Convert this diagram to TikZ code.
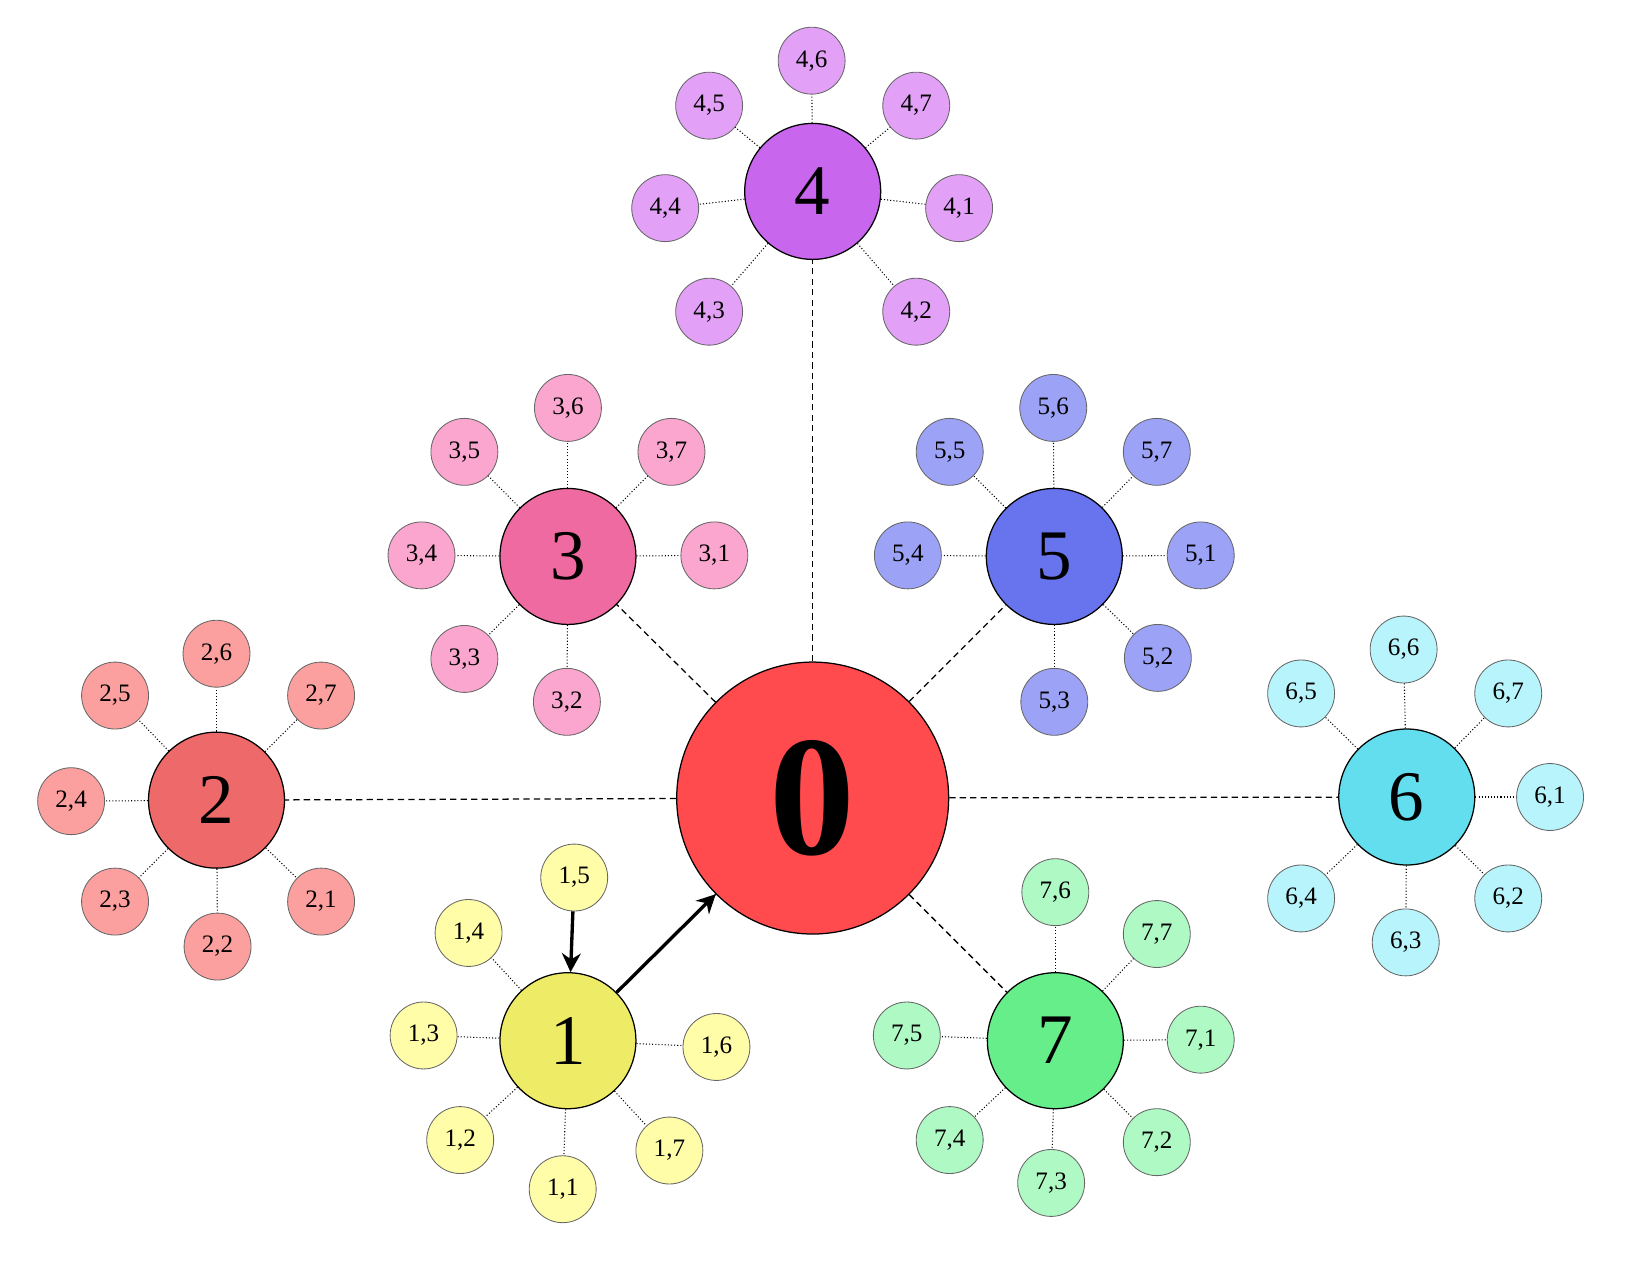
\documentclass[tikz,border=0pt]{standalone}
\usepackage{fontspec}
\setmainfont{Liberation Serif}
\usetikzlibrary{arrows.meta}
\definecolor{c0}{HTML}{FF4B4E}
\definecolor{m1}{HTML}{EEEC66}\definecolor{s1}{HTML}{FFFDA8}
\definecolor{m2}{HTML}{EE6A6A}\definecolor{s2}{HTML}{FCA09F}
\definecolor{m3}{HTML}{EE6AA0}\definecolor{s3}{HTML}{FBA6CF}
\definecolor{m4}{HTML}{C966EE}\definecolor{s4}{HTML}{E2A0F7}
\definecolor{m5}{HTML}{6873EE}\definecolor{s5}{HTML}{9CA3F7}
\definecolor{m6}{HTML}{63DEEE}\definecolor{s6}{HTML}{B8F4FB}
\definecolor{m7}{HTML}{66EE8A}\definecolor{s7}{HTML}{AEF9C4}
\tikzset{
 mainnode/.style={circle,draw=black,line width=0.6pt,minimum size=65pt,inner sep=0pt,font=\fontsize{34}{34}\selectfont},
 subnode/.style={circle,draw=black!60,line width=0.4pt,minimum size=32pt,inner sep=0pt,font=\fontsize{12}{12}\selectfont},
 hub/.style={circle,draw=black,line width=0.6pt,fill=c0,minimum size=130pt,inner sep=0pt,font=\fontsize{82}{82}\selectfont\bfseries},
 mainedge/.style={densely dashed,line width=0.6pt},
 subedge/.style={densely dotted,line width=0.5pt},
 arr/.style={line width=1.6pt,-{Stealth[length=9pt,width=9pt]}}
}
\begin{document}
\begin{tikzpicture}[x=0.5pt,y=-0.5pt]
\useasboundingbox (0,0) rectangle (1568,1222);
\node[hub] (n0) at (777,763) {0};
\foreach \m/\x/\y in {1/543/995,2/207/765,3/543/532,4/777/183,5/1008/532,6/1345/762,7/1009/995}{
  \node[mainnode,fill=m\m] (n\m) at (\x,\y) {\m};
  \draw[mainedge] (n0) -- (n\m);
}
\foreach \m/\k/\x/\y in {
 4/6/776/58,4/5/678/101,4/7/876/101,4/4/636/199,4/1/917/199,4/3/678/298,4/2/876/298,
 3/6/543/390,3/5/444/432,3/7/642/432,3/4/403/531,3/1/683/531,3/3/444/630,3/2/542/671,
 5/6/1007/390,5/5/908/432,5/7/1106/432,5/4/868/531,5/1/1148/531,5/2/1107/629,5/3/1008/671,
 2/6/207/625,2/5/110/665,2/7/307/665,2/4/68/766,2/3/110/862,2/1/307/862,2/2/208/905,
 6/6/1342/621,6/5/1244/663,6/7/1442/663,6/1/1482/762,6/4/1244/859,6/2/1442/859,6/3/1344/901,
 1/5/549/839,1/4/448/892,1/3/405/990,1/6/685/1001,1/2/440/1090,1/1/538/1137,1/7/640/1100,
 7/6/1009/853,7/7/1106/893,7/5/867/990,7/1/1148/994,7/4/908/1090,7/3/1005/1131,7/2/1106/1092}{
  \node[subnode,fill=s\m] (n\m\k) at (\x,\y) {\m,\k};
}
\foreach \m/\k in {4/6,4/5,4/7,4/4,4/1,4/3,4/2,3/6,3/5,3/7,3/4,3/1,3/3,3/2,5/6,5/5,5/7,5/4,5/1,5/2,5/3,
 2/6,2/5,2/7,2/4,2/3,2/1,2/2,6/6,6/5,6/7,6/1,6/4,6/2,6/3,1/4,1/3,1/6,1/2,1/1,1/7,
 7/6,7/7,7/5,7/1,7/4,7/3,7/2}{
  \draw[subedge] (n\m) -- (n\m\k);
}
\draw[arr] (n15) -- (n1);
\draw[arr] (n1) -- (n0);
\end{tikzpicture}
\end{document}
